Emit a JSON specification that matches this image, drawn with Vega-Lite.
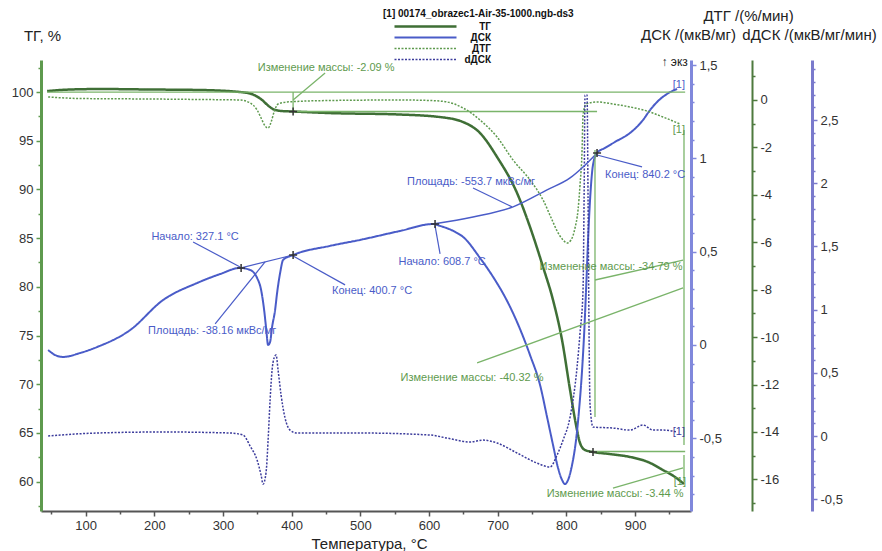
{
  "$schema": "https://vega.github.io/schema/vega-lite/v6.json",
  "width": 650,
  "height": 451,
  "autosize": "none",
  "padding": {"left": 41, "top": 60, "right": 191, "bottom": 40},
  "config": {
    "font": "Liberation Sans",
    "view": {"stroke": null},
    "locale": {"number": {"decimal": ",", "thousands": " ", "grouping": [3], "currency": ["", ""], "minus": "-"}},
    "axis": {"grid": false, "labelFontSize": 13, "labelColor": "#333", "titleFontSize": 15, "titleFontWeight": "normal", "titleColor": "#222", "labelPadding": 3}
  },
  "datasets": {
    "tg": [
      {"T": 43.9, "TG": 100.1}, {"T": 77.4, "TG": 100.26}, {"T": 121.1, "TG": 100.31}, {"T": 193.9, "TG": 100.26},
      {"T": 266.7, "TG": 100.21}, {"T": 324.9, "TG": 100.0}, {"T": 339.5, "TG": 99.85}, {"T": 348.2, "TG": 99.59},
      {"T": 357.0, "TG": 99.18}, {"T": 365.7, "TG": 98.61}, {"T": 374.4, "TG": 98.2}, {"T": 386.1, "TG": 98.05},
      {"T": 402.1, "TG": 98.0}, {"T": 455.9, "TG": 97.84}, {"T": 557.9, "TG": 97.69}, {"T": 616.1, "TG": 97.43},
      {"T": 649.6, "TG": 96.92}, {"T": 674.3, "TG": 95.79}, {"T": 699.1, "TG": 93.33}, {"T": 728.2, "TG": 89.63},
      {"T": 747.1, "TG": 86.14}, {"T": 766.1, "TG": 82.03}, {"T": 780.6, "TG": 78.64}, {"T": 793.7, "TG": 74.54},
      {"T": 805.4, "TG": 69.4}, {"T": 814.1, "TG": 65.81}, {"T": 819.9, "TG": 63.96}, {"T": 827.2, "TG": 63.24},
      {"T": 838.8, "TG": 63.04}, {"T": 863.6, "TG": 62.83}, {"T": 892.7, "TG": 62.53}, {"T": 918.9, "TG": 62.01},
      {"T": 940.7, "TG": 61.19}, {"T": 958.2, "TG": 60.47}, {"T": 971.3, "TG": 59.75}
    ],
    "dsc": [
      {"T": 45.4, "DSC": -0.027}, {"T": 55.6, "DSC": -0.054}, {"T": 67.2, "DSC": -0.064}, {"T": 92.0, "DSC": -0.043},
      {"T": 116.7, "DSC": -0.011}, {"T": 164.8, "DSC": 0.08}, {"T": 212.8, "DSC": 0.241}, {"T": 262.3, "DSC": 0.332},
      {"T": 295.8, "DSC": 0.38}, {"T": 324.9, "DSC": 0.413}, {"T": 339.5, "DSC": 0.402}, {"T": 349.7, "DSC": 0.359},
      {"T": 355.5, "DSC": 0.295}, {"T": 359.9, "DSC": 0.188}, {"T": 362.8, "DSC": 0.091}, {"T": 365.7, "DSC": 0.0},
      {"T": 368.6, "DSC": 0.016}, {"T": 371.5, "DSC": 0.096}, {"T": 375.9, "DSC": 0.188}, {"T": 378.8, "DSC": 0.279},
      {"T": 383.2, "DSC": 0.386}, {"T": 387.6, "DSC": 0.456}, {"T": 402.1, "DSC": 0.482}, {"T": 455.9, "DSC": 0.531},
      {"T": 499.6, "DSC": 0.563}, {"T": 557.9, "DSC": 0.611}, {"T": 605.9, "DSC": 0.648}, {"T": 616.1, "DSC": 0.638},
      {"T": 638.0, "DSC": 0.606}, {"T": 649.6, "DSC": 0.579}, {"T": 674.3, "DSC": 0.466}, {"T": 696.2, "DSC": 0.348},
      {"T": 710.7, "DSC": 0.257}, {"T": 728.2, "DSC": 0.123}, {"T": 747.1, "DSC": -0.054}, {"T": 761.7, "DSC": -0.214},
      {"T": 771.9, "DSC": -0.386}, {"T": 780.6, "DSC": -0.536}, {"T": 787.9, "DSC": -0.659}, {"T": 793.7, "DSC": -0.723},
      {"T": 798.1, "DSC": -0.745}, {"T": 802.5, "DSC": -0.723}, {"T": 808.3, "DSC": -0.643}, {"T": 814.1, "DSC": -0.509},
      {"T": 818.5, "DSC": -0.348}, {"T": 822.9, "DSC": -0.134}, {"T": 825.8, "DSC": 0.054}, {"T": 828.7, "DSC": 0.295},
      {"T": 831.6, "DSC": 0.563}, {"T": 834.5, "DSC": 0.777}, {"T": 838.8, "DSC": 0.965}, {"T": 844.7, "DSC": 1.029},
      {"T": 856.3, "DSC": 1.056}, {"T": 870.9, "DSC": 1.088}, {"T": 892.7, "DSC": 1.136}, {"T": 911.7, "DSC": 1.206},
      {"T": 921.9, "DSC": 1.259}, {"T": 932.1, "DSC": 1.302}, {"T": 946.6, "DSC": 1.345}, {"T": 961.2, "DSC": 1.372}
    ],
    "dsc_base": [
      {"T": 605.9, "DSC": 0.648}, {"T": 664.1, "DSC": 0.686}, {"T": 722.4, "DSC": 0.74}, {"T": 771.9, "DSC": 0.831},
      {"T": 805.4, "DSC": 0.895}, {"T": 824.3, "DSC": 0.954}, {"T": 844.7, "DSC": 1.029}
    ],
    "dtg": [
      {"T": 45.4, "DTG": 0.127}, {"T": 92.0, "DTG": 0.063}, {"T": 193.9, "DTG": 0.042}, {"T": 266.7, "DTG": 0.021},
      {"T": 324.9, "DTG": 0.0}, {"T": 339.5, "DTG": -0.127}, {"T": 349.7, "DTG": -0.422}, {"T": 355.5, "DTG": -0.759},
      {"T": 361.3, "DTG": -1.097}, {"T": 365.7, "DTG": -1.181}, {"T": 370.1, "DTG": -0.928}, {"T": 374.4, "DTG": -0.506},
      {"T": 380.2, "DTG": -0.169}, {"T": 393.3, "DTG": -0.084}, {"T": 455.9, "DTG": -0.021}, {"T": 557.9, "DTG": 0.0},
      {"T": 601.6, "DTG": -0.021}, {"T": 626.3, "DTG": -0.084}, {"T": 649.6, "DTG": -0.337}, {"T": 674.3, "DTG": -0.844},
      {"T": 699.1, "DTG": -1.561}, {"T": 722.4, "DTG": -2.531}, {"T": 747.1, "DTG": -3.374}, {"T": 766.1, "DTG": -4.218},
      {"T": 779.2, "DTG": -5.061}, {"T": 786.5, "DTG": -5.525}, {"T": 795.2, "DTG": -5.905}, {"T": 801.0, "DTG": -6.031},
      {"T": 806.8, "DTG": -5.905}, {"T": 812.6, "DTG": -5.399}, {"T": 817.0, "DTG": -4.639}, {"T": 819.9, "DTG": -3.585},
      {"T": 822.9, "DTG": -2.109}, {"T": 824.3, "DTG": -0.633}, {"T": 828.7, "DTG": -0.169}, {"T": 844.7, "DTG": -0.084},
      {"T": 868.0, "DTG": -0.169}, {"T": 892.7, "DTG": -0.295}, {"T": 917.4, "DTG": -0.464}, {"T": 940.7, "DTG": -0.717},
      {"T": 965.5, "DTG": -1.012}
    ],
    "ddsc": [
      {"T": 45.4, "dDSC": 0.0}, {"T": 62.9, "dDSC": 0.008}, {"T": 116.7, "dDSC": 0.024}, {"T": 212.8, "dDSC": 0.032},
      {"T": 310.3, "dDSC": 0.024}, {"T": 329.3, "dDSC": 0.008}, {"T": 339.5, "dDSC": -0.079}, {"T": 349.7, "dDSC": -0.19},
      {"T": 355.5, "dDSC": -0.309}, {"T": 358.4, "dDSC": -0.38}, {"T": 362.8, "dDSC": -0.285}, {"T": 365.7, "dDSC": -0.032},
      {"T": 368.6, "dDSC": 0.285}, {"T": 371.5, "dDSC": 0.522}, {"T": 374.4, "dDSC": 0.617}, {"T": 377.3, "dDSC": 0.641},
      {"T": 380.2, "dDSC": 0.522}, {"T": 384.6, "dDSC": 0.324}, {"T": 390.4, "dDSC": 0.142}, {"T": 397.7, "dDSC": 0.047},
      {"T": 407.9, "dDSC": 0.024}, {"T": 499.6, "dDSC": 0.024}, {"T": 601.6, "dDSC": 0.008}, {"T": 626.3, "dDSC": -0.016},
      {"T": 659.7, "dDSC": -0.047}, {"T": 678.7, "dDSC": -0.032}, {"T": 699.1, "dDSC": -0.055}, {"T": 728.2, "dDSC": -0.134},
      {"T": 757.3, "dDSC": -0.214}, {"T": 776.2, "dDSC": -0.245}, {"T": 786.5, "dDSC": -0.15}, {"T": 795.2, "dDSC": -0.032},
      {"T": 805.4, "dDSC": 0.15}, {"T": 815.6, "dDSC": 0.546}, {"T": 819.9, "dDSC": 0.815}, {"T": 824.3, "dDSC": 1.155},
      {"T": 825.8, "dDSC": 1.867}, {"T": 827.2, "dDSC": 2.698}, {"T": 830.1, "dDSC": 2.698}, {"T": 831.6, "dDSC": 1.867},
      {"T": 833.0, "dDSC": 0.839}, {"T": 834.5, "dDSC": 0.245}, {"T": 838.8, "dDSC": 0.071}, {"T": 868.0, "dDSC": 0.063},
      {"T": 892.7, "dDSC": 0.047}, {"T": 911.7, "dDSC": 0.087}, {"T": 926.2, "dDSC": 0.047}, {"T": 940.7, "dDSC": 0.047},
      {"T": 961.2, "dDSC": 0.032}
    ],
    "tg_rules": [
      {"T": 43.9, "TG": 100.0, "T2": 973.0, "TG2": 100.0},
      {"T": 402.1, "TG": 98.0, "T2": 844.7, "TG2": 98.0},
      {"T": 838.8, "TG": 63.09, "T2": 973.0, "TG2": 63.09},
      {"T": 402.1, "TG": 100.0, "T2": 402.1, "TG2": 98.05},
      {"T": 841.7, "TG": 94.05, "T2": 841.7, "TG2": 66.63},
      {"T": 971.3, "TG": 96.1, "T2": 971.3, "TG2": 63.76},
      {"T": 971.3, "TG": 62.73, "T2": 971.3, "TG2": 59.96},
      {"T": 448.7, "TG": 101.95, "T2": 402.1, "TG2": 99.18},
      {"T": 841.7, "TG": 80.7, "T2": 970.0, "TG2": 82.75},
      {"T": 670.0, "TG": 72.18, "T2": 970.0, "TG2": 79.88},
      {"T": 867.9, "TG": 59.34, "T2": 970.0, "TG2": 61.4}
    ],
    "tg_text": [
      {"T": 450.2, "TG": 102.46, "label": "Изменение массы: -2.09 %"},
      {"T": 865.0, "TG": 82.03, "label": "Изменение массы: -34.79 %"},
      {"T": 662.6, "TG": 70.64, "label": "Изменение массы: -40.32 %"},
      {"T": 870.9, "TG": 58.73, "label": "Изменение массы: -3.44 %"},
      {"T": 963.9, "TG": 96.1, "label": "[1]"},
      {"T": 965.3, "TG": 59.96, "label": "[1]"}
    ],
    "tg_marks": [
      {"T": 402.1, "TG": 98.0}, {"T": 838.8, "TG": 63.04}
    ],
    "dsc_rules": [
      {"T": 326.4, "DSC": 0.413, "T2": 402.1, "DSC2": 0.482},
      {"T": 256.5, "DSC": 0.552, "T2": 324.9, "DSC2": 0.418},
      {"T": 402.1, "DSC": 0.477, "T2": 477.8, "DSC2": 0.322},
      {"T": 288.6, "DSC": 0.113, "T2": 361.3, "DSC2": 0.445},
      {"T": 608.8, "DSC": 0.638, "T2": 616.1, "DSC2": 0.488},
      {"T": 664.1, "DSC": 0.841, "T2": 720.9, "DSC2": 0.74},
      {"T": 844.7, "DSC": 1.018, "T2": 910.2, "DSC2": 0.954}
    ],
    "dsc_text": [
      {"T": 259.4, "DSC": 0.579, "label": "Начало: 327.1 °C"},
      {"T": 517.1, "DSC": 0.289, "label": "Конец: 400.7 °C"},
      {"T": 284.2, "DSC": 0.075, "label": "Площадь: -38.16 мкВс/мг"},
      {"T": 619.1, "DSC": 0.445, "label": "Начало: 608.7 °C"},
      {"T": 661.2, "DSC": 0.874, "label": "Площадь: -553.7 мкВс/мг"},
      {"T": 914.7, "DSC": 0.911, "label": "Конец: 840.2 °C"},
      {"T": 963.9, "DSC": 1.393, "label": "[1]"}
    ],
    "dsc_marks": [
      {"T": 326.4, "DSC": 0.413}, {"T": 402.1, "DSC": 0.482}, {"T": 608.8, "DSC": 0.648}, {"T": 844.7, "DSC": 1.029}
    ],
    "dsc_exo": [
      {"T": 976.8, "DSC": 1.517, "label": "↑ экз"}
    ],
    "ddsc_text": [
      {"T": 963.9, "dDSC": 0.032, "label": "[1]"}
    ]
  },
  "encoding": {
    "x": {"field": "T", "type": "quantitative", "scale": {"domain": [35, 981.5], "nice": false, "zero": false},
      "axis": {"orient": "bottom", "values": [50,100,150,200,250,300,350,400,450,500,550,600,650,700,750,800,850,900,950],
        "format": "d", "labelExpr": "datum.value % 100 === 0 ? datum.label : ''",
        "tickSize": {"condition": {"test": "datum.value % 100 === 0", "value": 5}, "value": 3},
        "domainColor": "#555", "domainWidth": 2, "tickColor": "#555", "tickWidth": 1.5,
        "title": "Температура, °C", "titleX": 328, "titleY": 32, "titleAlign": "center", "titleBaseline": "middle"}}
  },
  "layer": [
    {
      "data": {"name": "tg"},
      "mark": {"type": "line", "interpolate": "monotone"},
      "encoding": {
        "y": {"field": "TG", "type": "quantitative", "scale": {"domain": [56.98, 103.29], "nice": false, "zero": false},
          "axis": {"orient": "left", "values": [57.5,60,62.5,65,67.5,70,72.5,75,77.5,80,82.5,85,87.5,90,92.5,95,97.5,100,102.5],
            "format": "~g", "labelExpr": "datum.value % 5 === 0 ? datum.label : ''",
            "tickSize": {"condition": {"test": "datum.value % 5 === 0", "value": 5}, "value": 3},
            "domainColor": "#5e9a4e", "domainWidth": 3, "tickColor": "#5e9a4e", "tickWidth": 1.5,
            "title": "ТГ, %", "titleAngle": 0, "titleX": 1, "titleY": -25, "titleAlign": "center", "titleBaseline": "middle"}},
        "color": {"datum": "ТГ", "type": "nominal", "scale": {"domain": ["ТГ", "ДСК", "ДТГ", "dДСК"], "range": ["#3f6f36", "#4a5cc8", "#5e9a4e", "#3c3c9c"]},
          "legend": {"orient": "none", "legendX": 342, "legendY": -51, "title": "[1] 00174_obrazec1-Air-35-1000.ngb-ds3",
            "titleFontSize": 10, "titleFontWeight": "bold", "titleColor": "#111", "titlePadding": 2, "titleLimit": 320,
            "symbolType": "stroke", "symbolSize": 3844, "clipHeight": 11, "rowPadding": 0,
            "labelFontSize": 10, "labelFontWeight": "bold", "labelColor": "#111", "labelOffset": 33, "labelAlign": "right", "symbolOffset": 10}},
        "strokeDash": {"datum": "ТГ", "type": "nominal", "scale": {"domain": ["ТГ", "ДСК", "ДТГ", "dДСК"], "range": [[1, 0], [1, 0], [2, 1.5], [2, 1.5]]},
          "legend": {"orient": "none", "legendX": 342, "legendY": -51, "title": "[1] 00174_obrazec1-Air-35-1000.ngb-ds3",
            "titleFontSize": 10, "titleFontWeight": "bold", "titleColor": "#111", "titlePadding": 2, "titleLimit": 320,
            "symbolType": "stroke", "symbolSize": 3844, "clipHeight": 11, "rowPadding": 0,
            "labelFontSize": 10, "labelFontWeight": "bold", "labelColor": "#111", "labelOffset": 33, "labelAlign": "right", "symbolOffset": 10}},
        "strokeWidth": {"datum": "ТГ", "type": "ordinal", "scale": {"type": "ordinal", "domain": ["ТГ", "ДСК", "ДТГ", "dДСК"], "range": [2.5, 2, 1.5, 1.5]},
          "legend": {"orient": "none", "legendX": 342, "legendY": -51, "title": "[1] 00174_obrazec1-Air-35-1000.ngb-ds3",
            "titleFontSize": 10, "titleFontWeight": "bold", "titleColor": "#111", "titlePadding": 2, "titleLimit": 320,
            "symbolType": "stroke", "symbolSize": 3844, "clipHeight": 11, "rowPadding": 0,
            "labelFontSize": 10, "labelFontWeight": "bold", "labelColor": "#111", "labelOffset": 33, "labelAlign": "right", "symbolOffset": 10}}
      }
    },
    {
      "data": {"name": "dsc"},
      "mark": {"type": "line", "interpolate": "monotone"},
      "encoding": {
        "y": {"field": "DSC", "type": "quantitative", "scale": {"domain": [-0.8896, 1.527], "nice": false, "zero": false},
          "axis": {"orient": "right", "offset": 0,
            "values": [-0.8,-0.7,-0.6,-0.5,-0.4,-0.3,-0.2,-0.1,0,0.1,0.2,0.3,0.4,0.5,0.6,0.7,0.8,0.9,1,1.1,1.2,1.3,1.4,1.5],
            "format": "~g", "labelExpr": "abs(datum.value*2 - round(datum.value*2)) < 0.001 ? datum.label : ''",
            "tickSize": {"condition": {"test": "abs(datum.value*2 - round(datum.value*2)) < 0.001", "value": 5}, "value": 3},
            "domainColor": "#8088dc", "domainWidth": 3, "tickColor": "#8088dc", "tickWidth": 1.5,
            "title": "ДСК /(мкВ/мг)", "titleAngle": 0, "titleX": -3, "titleY": -26, "titleAlign": "center", "titleBaseline": "middle"}},
        "color": {"datum": "ДСК", "type": "nominal", "scale": {"domain": ["ТГ", "ДСК", "ДТГ", "dДСК"], "range": ["#3f6f36", "#4a5cc8", "#5e9a4e", "#3c3c9c"]}, "legend": null},
        "strokeDash": {"datum": "ДСК", "type": "nominal", "scale": {"domain": ["ТГ", "ДСК", "ДТГ", "dДСК"], "range": [[1, 0], [1, 0], [2, 1.5], [2, 1.5]]}, "legend": null},
        "strokeWidth": {"datum": "ДСК", "type": "ordinal", "scale": {"type": "ordinal", "domain": ["ТГ", "ДСК", "ДТГ", "dДСК"], "range": [2.5, 2, 1.5, 1.5]}, "legend": null}
      }
    },
    {
      "data": {"name": "dtg"},
      "mark": {"type": "line", "interpolate": "monotone"},
      "encoding": {
        "y": {"field": "DTG", "type": "quantitative", "scale": {"domain": [-17.335, 1.687], "nice": false, "zero": false},
          "axis": {"orient": "right", "offset": 61,
            "values": [-17,-16,-15,-14,-13,-12,-11,-10,-9,-8,-7,-6,-5,-4,-3,-2,-1,0,1],
            "format": "d", "labelExpr": "datum.value % 2 === 0 ? datum.label : ''",
            "tickSize": {"condition": {"test": "datum.value % 2 === 0", "value": 5}, "value": 3},
            "domainColor": "#4e7a3e", "domainWidth": 2, "tickColor": "#4e7a3e", "tickWidth": 1.5,
            "title": "ДТГ /(%/мин)", "titleAngle": 0, "titleX": -4, "titleY": -45, "titleAlign": "center", "titleBaseline": "middle"}},
        "color": {"datum": "ДТГ", "type": "nominal", "scale": {"domain": ["ТГ", "ДСК", "ДТГ", "dДСК"], "range": ["#3f6f36", "#4a5cc8", "#5e9a4e", "#3c3c9c"]}, "legend": null},
        "strokeDash": {"datum": "ДТГ", "type": "nominal", "scale": {"domain": ["ТГ", "ДСК", "ДТГ", "dДСК"], "range": [[1, 0], [1, 0], [2, 1.5], [2, 1.5]]}, "legend": null},
        "strokeWidth": {"datum": "ДТГ", "type": "ordinal", "scale": {"type": "ordinal", "domain": ["ТГ", "ДСК", "ДТГ", "dДСК"], "range": [2.5, 2, 1.5, 1.5]}, "legend": null}
      }
    },
    {
      "data": {"name": "ddsc"},
      "mark": {"type": "line", "interpolate": "monotone"},
      "encoding": {
        "y": {"field": "dDSC", "type": "quantitative", "scale": {"domain": [-0.593, 2.975], "nice": false, "zero": false},
          "axis": {"orient": "right", "offset": 121,
            "values": [-0.5,-0.4,-0.3,-0.2,-0.1,0,0.1,0.2,0.3,0.4,0.5,0.6,0.7,0.8,0.9,1,1.1,1.2,1.3,1.4,1.5,1.6,1.7,1.8,1.9,2,2.1,2.2,2.3,2.4,2.5,2.6,2.7,2.8,2.9],
            "format": "~g", "labelExpr": "abs(datum.value*2 - round(datum.value*2)) < 0.001 ? datum.label : ''",
            "tickSize": {"condition": {"test": "abs(datum.value*2 - round(datum.value*2)) < 0.001", "value": 5}, "value": 3},
            "domainColor": "#7a7acc", "domainWidth": 3, "tickColor": "#7a7acc", "tickWidth": 1.5,
            "title": "dДСК /(мкВ/мг/мин)", "titleAngle": 0, "titleX": -3, "titleY": -26, "titleAlign": "center", "titleBaseline": "middle"}},
        "color": {"datum": "dДСК", "type": "nominal", "scale": {"domain": ["ТГ", "ДСК", "ДТГ", "dДСК"], "range": ["#3f6f36", "#4a5cc8", "#5e9a4e", "#3c3c9c"]}, "legend": null},
        "strokeDash": {"datum": "dДСК", "type": "nominal", "scale": {"domain": ["ТГ", "ДСК", "ДТГ", "dДСК"], "range": [[1, 0], [1, 0], [2, 1.5], [2, 1.5]]}, "legend": null},
        "strokeWidth": {"datum": "dДСК", "type": "ordinal", "scale": {"type": "ordinal", "domain": ["ТГ", "ДСК", "ДТГ", "dДСК"], "range": [2.5, 2, 1.5, 1.5]}, "legend": null}
      }
    },
    {
      "data": {"name": "dsc_base"},
      "mark": {"type": "line", "interpolate": "monotone", "color": "#4a5cc8", "strokeWidth": 1.5},
      "encoding": {
        "y": {"field": "DSC", "type": "quantitative", "scale": {"domain": [-0.8896, 1.527], "nice": false, "zero": false}, "axis": null}
      }
    },
    {
      "data": {"name": "tg_rules"},
      "mark": {"type": "rule", "color": "#7ab46a", "strokeWidth": 1.3},
      "encoding": {
        "x2": {"field": "T2"},
        "y": {"field": "TG", "type": "quantitative", "scale": {"domain": [56.98, 103.29], "nice": false, "zero": false}, "axis": null},
        "y2": {"field": "TG2"}
      }
    },
    {
      "data": {"name": "dsc_rules"},
      "mark": {"type": "rule", "color": "#4a5cc8", "strokeWidth": 1.2},
      "encoding": {
        "x2": {"field": "T2"},
        "y": {"field": "DSC", "type": "quantitative", "scale": {"domain": [-0.8896, 1.527], "nice": false, "zero": false}, "axis": null},
        "y2": {"field": "DSC2"}
      }
    },
    {
      "data": {"name": "tg_marks"},
      "mark": {"type": "point", "shape": "M-1,0L1,0M0,-1L0,1", "filled": false, "size": 64, "color": "#333", "strokeWidth": 1.5, "opacity": 1},
      "encoding": {
        "y": {"field": "TG", "type": "quantitative", "scale": {"domain": [56.98, 103.29], "nice": false, "zero": false}, "axis": null}
      }
    },
    {
      "data": {"name": "dsc_marks"},
      "mark": {"type": "point", "shape": "M-1,0L1,0M0,-1L0,1", "filled": false, "size": 64, "color": "#333", "strokeWidth": 1.5, "opacity": 1},
      "encoding": {
        "y": {"field": "DSC", "type": "quantitative", "scale": {"domain": [-0.8896, 1.527], "nice": false, "zero": false}, "axis": null}
      }
    },
    {
      "data": {"name": "tg_text"},
      "mark": {"type": "text", "color": "#5e9a4e", "fontSize": 11, "align": "center", "baseline": "middle"},
      "encoding": {
        "y": {"field": "TG", "type": "quantitative", "scale": {"domain": [56.98, 103.29], "nice": false, "zero": false}, "axis": null},
        "text": {"field": "label"}
      }
    },
    {
      "data": {"name": "dsc_text"},
      "mark": {"type": "text", "color": "#4a5cc8", "fontSize": 11, "align": "center", "baseline": "middle"},
      "encoding": {
        "y": {"field": "DSC", "type": "quantitative", "scale": {"domain": [-0.8896, 1.527], "nice": false, "zero": false}, "axis": null},
        "text": {"field": "label"}
      }
    },
    {
      "data": {"name": "dsc_exo"},
      "mark": {"type": "text", "color": "#222", "fontSize": 12, "align": "right", "baseline": "middle"},
      "encoding": {
        "y": {"field": "DSC", "type": "quantitative", "scale": {"domain": [-0.8896, 1.527], "nice": false, "zero": false}, "axis": null},
        "text": {"field": "label"}
      }
    },
    {
      "data": {"name": "ddsc_text"},
      "mark": {"type": "text", "color": "#3c3c9c", "fontSize": 11, "align": "center", "baseline": "middle"},
      "encoding": {
        "y": {"field": "dDSC", "type": "quantitative", "scale": {"domain": [-0.593, 2.975], "nice": false, "zero": false}, "axis": null},
        "text": {"field": "label"}
      }
    }
  ],
  "resolve": {"scale": {"y": "independent"}, "axis": {"y": "independent"}}
}
